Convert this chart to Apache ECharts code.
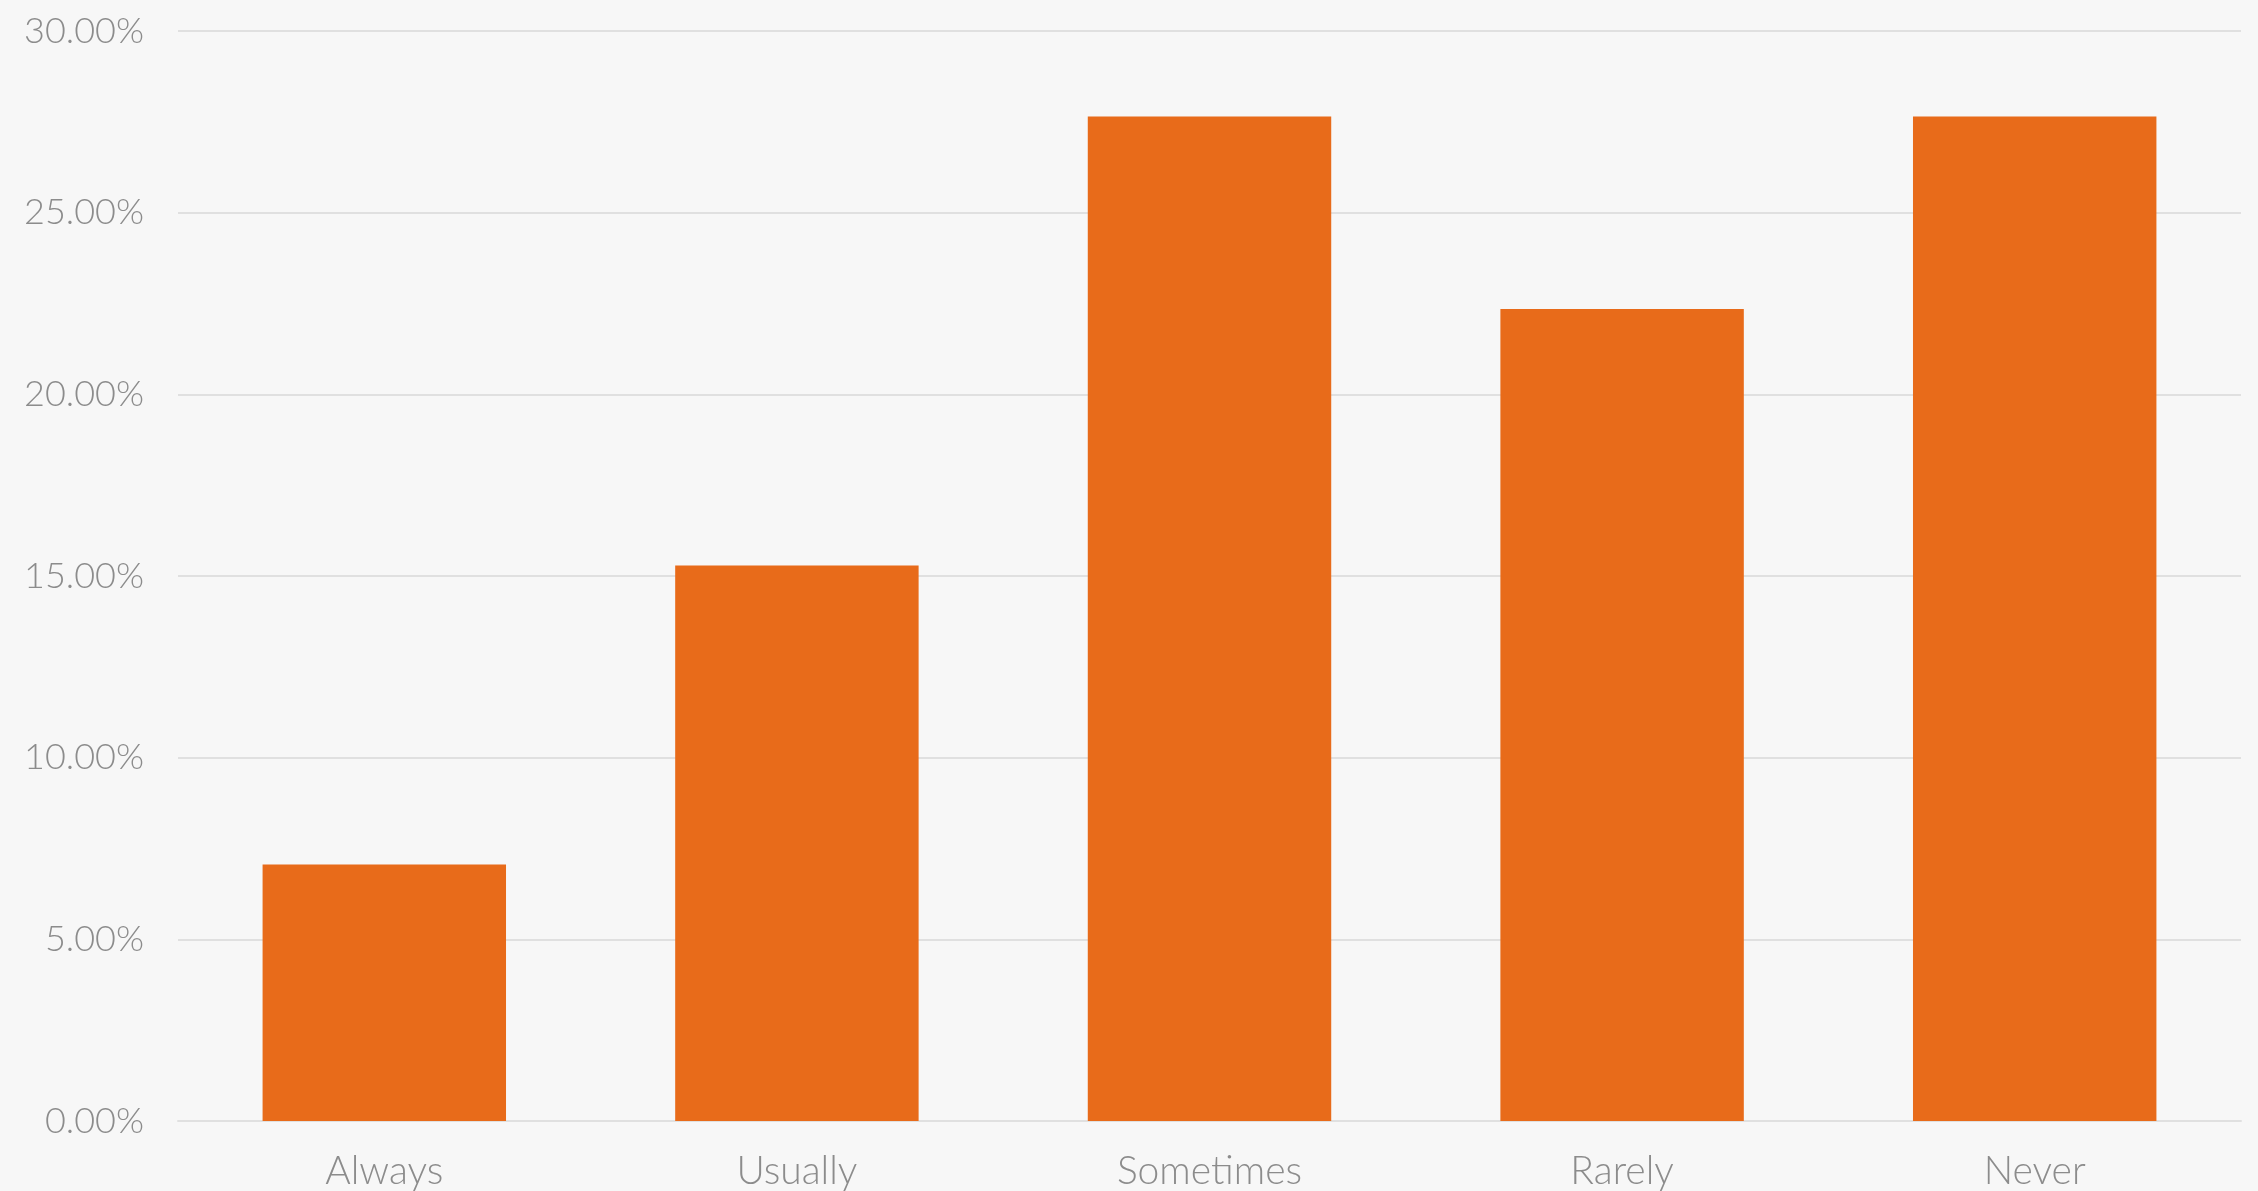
<!DOCTYPE html>
<html>
<head>
<meta charset="utf-8">
<style>
  html, body { margin: 0; padding: 0; background: #f7f7f7; }
  #chart { width: 2258px; height: 1191px; }
</style>
<script src="https://cdn.jsdelivr.net/npm/echarts@6/dist/echarts.min.js"></script>
</head>
<body>
<div id="chart"></div>
<script>
// Share of responses per frequency category (percent)
const categories = ['Always', 'Usually', 'Sometimes', 'Rarely', 'Never'];
const shares = [7.06, 15.29, 27.65, 22.35, 27.65];
const yTicks = { min: 0, max: 30, interval: 5 };

const chart = echarts.init(document.getElementById('chart'));
const labelFont = { color: '#8c8c8c', fontFamily: 'Lato, "Open Sans", sans-serif', fontWeight: 300, fontSize: 36 };

chart.setOption({
  backgroundColor: '#f7f7f7',
  animation: false,
  grid: { left: 178, right: 17, top: 31, bottom: 70, containLabel: false },
  xAxis: {
    type: 'category',
    data: categories,
    axisLine: { show: true, lineStyle: { color: '#e0e0e0', width: 2 } },
    axisTick: { show: false },
    axisLabel: Object.assign({}, labelFont, { margin: 31, fontSize: 39 })
  },
  yAxis: {
    type: 'value',
    min: yTicks.min,
    max: yTicks.max,
    interval: yTicks.interval,
    axisLine: { show: false },
    axisTick: { show: false },
    splitLine: { lineStyle: { color: '#e0e0e0', width: 2 } },
    axisLabel: Object.assign({ margin: 34, formatter: v => v.toFixed(2) + '%' }, labelFont)
  },
  series: [{
    type: 'bar',
    data: shares,
    barCategoryGap: '41%',
    itemStyle: { color: '#e86b1a' }
  }]
});
</script>
</body>
</html>
